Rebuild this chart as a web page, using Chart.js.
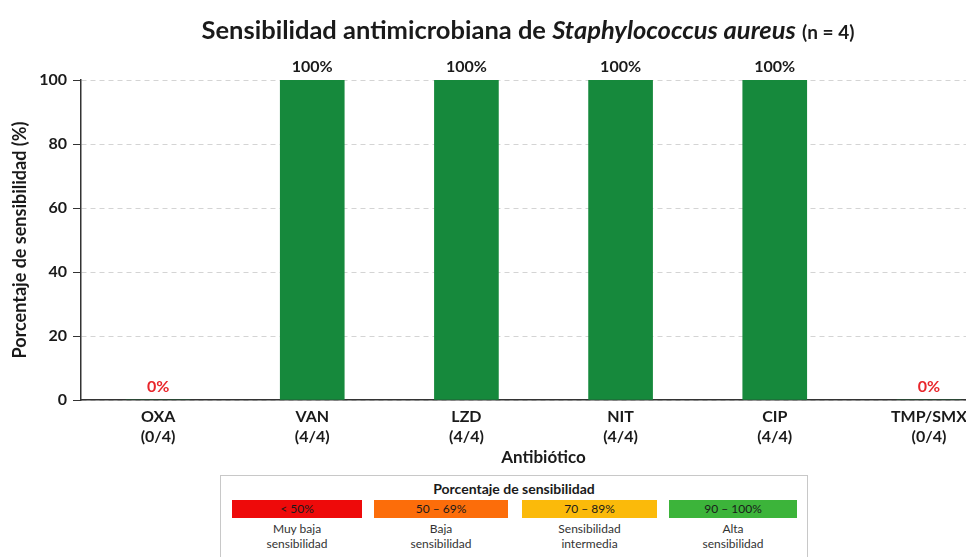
<!DOCTYPE html>
<html>
<head>
<meta charset="utf-8">
<script src="https://cdn.jsdelivr.net/npm/chart.js@4.4.1/dist/chart.umd.min.js"></script>
<style>
  html, body { margin: 0; padding: 0; background: #fff; }
  #wrap { position: relative; width: 966px; height: 557px; overflow: hidden; font-family: Lato, "Noto Sans", sans-serif; color: #1a1a1a; }
  #chart { position: absolute; left: 0; top: 0; }
  #title { position: absolute; left: 0; width: 1056px; top: 14px; text-align: center; font-size: 25.5px; font-weight: 700; }
  #title small { font-size: 19px; }
  #legendBox { position: absolute; left: 220px; top: 475px; width: 586px; height: 100px; border: 1px solid #c8c8c8; }
  #legendTitle { position: absolute; left: 0; right: 0; top: 4px; text-align: center; font-size: 14px; font-weight: 700; }
  .sw { position: absolute; top: 24px; height: 18px; line-height: 18px; text-align: center; font-size: 12px; }
  .cap { position: absolute; top: 45px; text-align: center; font-size: 12px; line-height: 15px; color: #333; }
</style>
</head>
<body>
<div id="wrap">
  <canvas id="chart" width="1012" height="470"></canvas>
  <div id="title">Sensibilidad antimicrobiana de <i>Staphylococcus aureus</i> <small>(n = 4)</small></div>
  <div id="legendBox"><div id="legendTitle">Porcentaje de sensibilidad</div></div>
</div>
<script>
// chart data
const antibiotics = ['OXA', 'VAN', 'LZD', 'NIT', 'CIP', 'TMP/SMX'];
const isolates = ['(0/4)', '(4/4)', '(4/4)', '(4/4)', '(4/4)', '(0/4)'];
const sensitivity = [0, 100, 100, 100, 100, 0];
const yTicks = [0, 20, 40, 60, 80, 100];

// legend bands
const bandRanges = ['< 50%', '50 – 69%', '70 – 89%', '90 – 100%'];
const bandNames = [['Muy baja', 'sensibilidad'], ['Baja', 'sensibilidad'], ['Sensibilidad', 'intermedia'], ['Alta', 'sensibilidad']];
const bandColors = ['#ee0a0a', '#fc6d0a', '#fbba0a', '#3cb43a'];

// build the legend boxes
const box = document.getElementById('legendBox');
const swLeft = [11, 153, 301, 448];
const swWidth = [130, 134, 135, 128];
bandRanges.forEach((r, i) => {
  const sw = document.createElement('div');
  sw.className = 'sw';
  sw.style.left = swLeft[i] + 'px';
  sw.style.width = swWidth[i] + 'px';
  sw.style.background = bandColors[i];
  sw.textContent = r;
  box.appendChild(sw);
  const cap = document.createElement('div');
  cap.className = 'cap';
  cap.style.left = swLeft[i] + 'px';
  cap.style.width = swWidth[i] + 'px';
  cap.innerHTML = bandNames[i].join('<br>');
  box.appendChild(cap);
});

// draws "100%" / "0%" above each bar
const valueLabels = {
  id: 'valueLabels',
  afterDatasetsDraw(chart) {
    const ctx = chart.ctx;
    const meta = chart.getDatasetMeta(0);
    ctx.save();
    ctx.font = 'bold 16px Lato, "Noto Sans", sans-serif';
    ctx.textAlign = 'center';
    ctx.textBaseline = 'bottom';
    meta.data.forEach((bar, i) => {
      const v = sensitivity[i];
      ctx.fillStyle = v === 0 ? '#e8262b' : '#1a1a1a';
      ctx.fillText(v + '%', bar.x, bar.y - 5);
    });
    ctx.restore();
  }
};

const ctx = document.getElementById('chart').getContext('2d');
const chart = new Chart(ctx, {
  type: 'bar',
  data: {
    labels: antibiotics.map((a, i) => [a, isolates[i]]),
    datasets: [{
      data: sensitivity,
      backgroundColor: '#16893c',
      barThickness: 64
    }]
  },
  plugins: [valueLabels],
  options: {
    responsive: false,
    animation: false,
    layout: { padding: { top: 80, right: 6, left: 0, bottom: 0 } },
    plugins: {
      legend: { display: false },
      tooltip: { enabled: false }
    },
    scales: {
      x: {
        grid: { display: false, drawTicks: false },
        border: { display: true, color: '#333', width: 1.5 },
        ticks: {
          color: '#1a1a1a',
          padding: 7,
          maxRotation: 0,
          font: { family: 'Lato', size: 16, weight: 'bold', lineHeight: 1.25 }
        },
        title: {
          display: true,
          text: 'Antibiótico',
          color: '#1a1a1a',
          padding: { top: 2, bottom: 2 },
          font: { family: 'Lato', size: 17, weight: 'bold' }
        },
        afterFit(scale) { scale.height = 70; }
      },
      y: {
        min: 0,
        max: 100,
        afterBuildTicks(scale) { scale.ticks = yTicks.map(v => ({ value: v })); },
        grid: {
          color: '#d4d4d4',
          tickColor: '#333',
          tickLength: 8,
          tickBorderDash: []
        },
        border: { display: true, color: '#333', width: 1.5, dash: [5, 4] },
        ticks: {
          color: '#1a1a1a',
          padding: 6,
          font: { family: 'Lato', size: 16, weight: 'bold' }
        },
        title: {
          display: true,
          text: 'Porcentaje de sensibilidad (%)',
          color: '#1a1a1a',
          padding: { top: 9, bottom: 0 },
          font: { family: 'Lato', size: 18, weight: 'bold' }
        },
        afterFit(scale) { scale.width = 81; }
      }
    }
  }
});
</script>
</body>
</html>
